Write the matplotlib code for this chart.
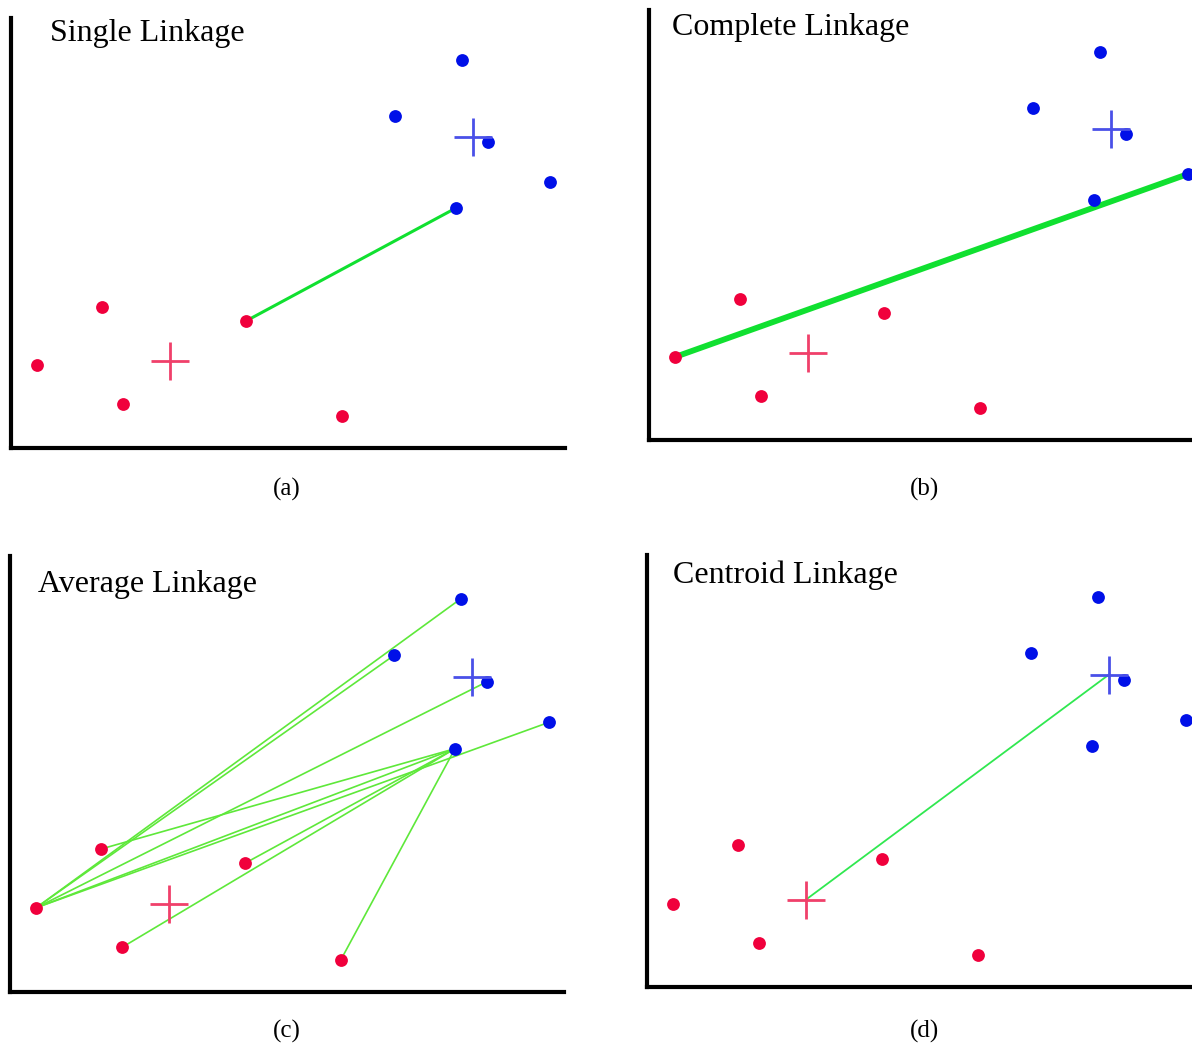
import numpy as np
import matplotlib.pyplot as plt

# cluster points, same layout in every panel (units ~ pixels from the axes corner)
red_x = [26, 91, 112, 235, 331]
red_y = [83, 141, 44, 127, 32]
blue_x = [451, 384, 477, 539, 445]
blue_y = [388, 332, 306, 266, 240]
red_cx, red_cy = 159, 87
blue_cx, blue_cy = 462, 311

titles = ["Single Linkage", "Complete Linkage", "Average Linkage", "Centroid Linkage"]
captions = ["(a)", "(b)", "(c)", "(d)"]

# links drawn in each panel: (red index, blue index)
single_links = [(3, 4)]
complete_links = [(0, 3)]
average_links = [(0, 0), (0, 1), (0, 2), (0, 3), (0, 4), (1, 4), (2, 4), (3, 4), (4, 4)]

W, H = 1192, 1046
fig = plt.figure(figsize=(W / 100, H / 100), dpi=100)

# panel boxes in pixels: left, top, bottom (width is same for all)
boxes = [(11, 18, 448), (649, 10, 440), (10, 556, 992), (647, 555, 987)]
title_pos = [(39, 414), (23, 412), (28, 402), (26, 410)]
caption_pos = [(287, 489), (925, 489), (287, 1031), (925, 1031)]
ax_w = 554

red = "#f0003c"
blue = "#0010e8"
green = "#10e030"

def make_ax(i):
    left, top, bottom = boxes[i]
    hpx = bottom - top
    ax = fig.add_axes([left / W, 1 - bottom / H, ax_w / W, hpx / H])
    ax.set_xlim(0, ax_w)
    ax.set_ylim(0, 430)
    for s in ["top", "right"]:
        ax.spines[s].set_visible(False)
    for s in ["left", "bottom"]:
        ax.spines[s].set_linewidth(3)
        ax.spines[s].set_color("black")
    ax.set_xticks([])
    ax.set_yticks([])
    ax.text(title_pos[i][0], title_pos[i][1], titles[i], family="Liberation Serif",
            fontsize=23, va="center", ha="left")
    fig.text(caption_pos[i][0] / W, 1 - caption_pos[i][1] / H, captions[i],
             family="Liberation Serif", fontsize=18, ha="center", va="center")
    return ax

def draw_points(ax):
    ax.scatter(red_x, red_y, s=85, color=red, zorder=3, linewidths=0)
    ax.scatter(blue_x, blue_y, s=85, color=blue, zorder=3, linewidths=0)
    ax.plot(red_cx, red_cy, marker="+", ms=27, mew=2, color="#f0406a", zorder=4)
    ax.plot(blue_cx, blue_cy, marker="+", ms=27, mew=2, color="#4a50e8", zorder=4)

def draw_links(ax, links, lw, col):
    for r, b in links:
        ax.plot([red_x[r], blue_x[b]], [red_y[r], blue_y[b]], color=col, lw=lw,
                solid_capstyle="round", zorder=2, clip_on=False)

ax = make_ax(0)
draw_points(ax)
draw_links(ax, single_links, 2.2, green)

ax = make_ax(1)
draw_points(ax)
draw_links(ax, complete_links, 4.2, green)

ax = make_ax(2)
draw_points(ax)
draw_links(ax, average_links, 1.2, "#5ee83a")

ax = make_ax(3)
draw_points(ax)
ax.plot([red_cx, blue_cx], [red_cy, blue_cy], color="#30e850", lw=1.3, zorder=2)

fig.savefig("out.png", dpi=100)
